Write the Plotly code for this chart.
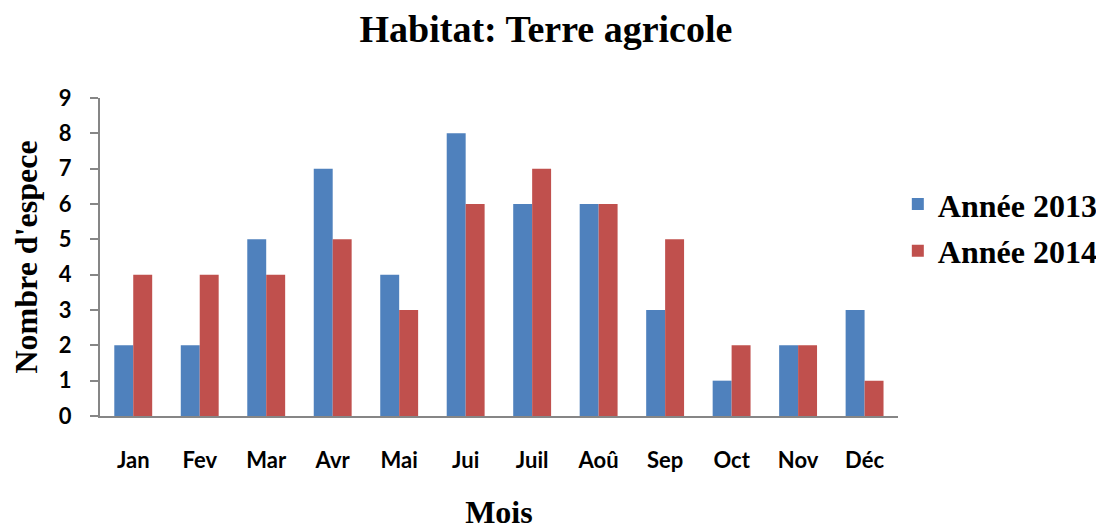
import plotly.graph_objects as go

months = ["Jan", "Fev", "Mar", "Avr", "Mai", "Jui", "Juil", "Aoû", "Sep", "Oct", "Nov", "Déc"]
annee_2013 = [2, 2, 5, 7, 4, 8, 6, 6, 3, 1, 2, 3]
annee_2014 = [4, 4, 4, 5, 3, 6, 7, 6, 5, 2, 2, 1]
y_ticks = list(range(0, 10))

serif = "Liberation Serif, Times New Roman, serif"
sans = "Lato, Carlito, Calibri, sans-serif"

fig = go.Figure()
fig.add_trace(go.Bar(x=months, y=annee_2013, name="Année 2013", marker_color="#4F81BD",
                     marker_line_width=0, legendgroup="a"))
fig.add_trace(go.Bar(x=months, y=annee_2014, name="Année 2014", marker_color="#C0504D",
                     marker_line_width=0, legendgroup="b"))

fig.update_layout(
    width=1104, height=524,
    margin=dict(l=92, r=212, t=90, b=116),
    paper_bgcolor="white", plot_bgcolor="white",
    barmode="group", bargap=0.43, bargroupgap=0,
    title=dict(text="<b>Habitat: Terre agricole</b>", x=0.4873, xref="container", xanchor="center",
               y=1 - 21 / 524, yref="container", yanchor="middle",
               font=dict(family=serif, size=38, color="black")),
    showlegend=True,
    legend=dict(x=0.806, xref="container", xanchor="left", y=0.592, yanchor="middle",
                font=dict(family=serif, size=32, color="black", weight="bold"),
                bgcolor="rgba(0,0,0,0)", tracegroupgap=2),
    xaxis=dict(showline=True, linecolor="#868686", linewidth=2, ticks="",
               tickfont=dict(family=sans, size=22, color="black", weight="bold"),
               ticklabelstandoff=24, automargin=False,
               title=dict(text="<b>Mois</b>", font=dict(family=serif, size=32, color="black"),
                          standoff=28),
               showgrid=False, zeroline=False),
    yaxis=dict(range=[0, 9], tickvals=y_ticks, showline=True, linecolor="#868686", linewidth=2,
               ticks="outside", ticklen=8, tickcolor="#868686", tickwidth=2,
               tickfont=dict(family=sans, size=22, color="black", weight="bold"),
               ticklabelstandoff=14, automargin=False,
               title=dict(text="<b>Nombre d'espece</b>", font=dict(family=serif, size=32, color="black"),
                          standoff=14),
               showgrid=False, zeroline=False),
)

fig.write_html("out.html")
